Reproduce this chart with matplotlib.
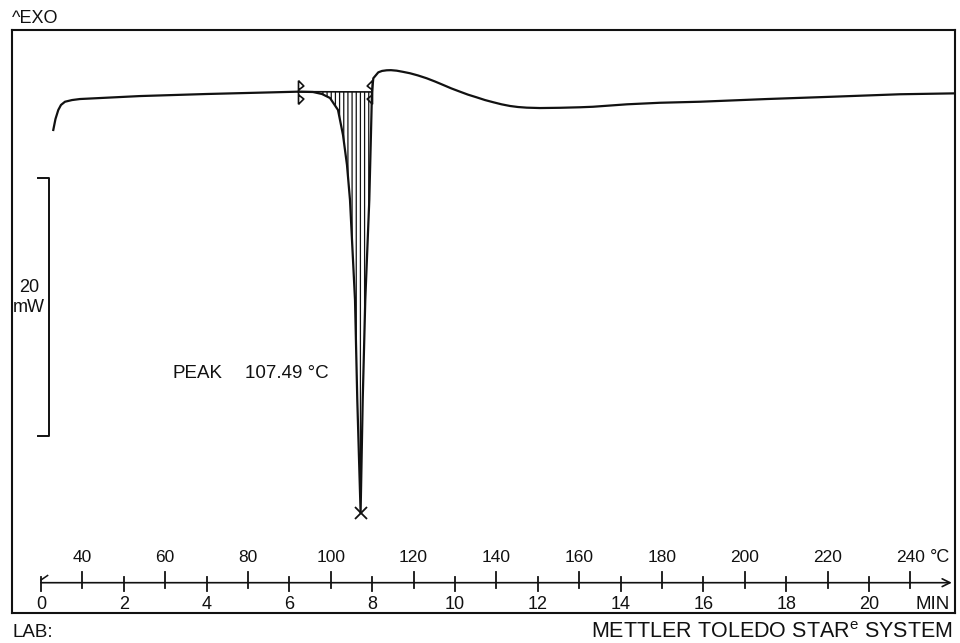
import numpy as np
import matplotlib
matplotlib.use("Agg")
import matplotlib.pyplot as plt
from matplotlib.path import Path

# ---------------- data ----------------
temperature_c = [32.97, 33.50, 34.18, 34.83, 35.80, 37.49, 39.42, 53.91, 70.02, 86.04,
                 92.08, 95.70, 97.87, 99.81, 101.74, 102.95, 103.91, 104.64, 105.85, 106.40,
                 107.20, 107.71, 108.33, 109.30, 109.71, 109.95, 110.27, 110.92, 111.47, 112.37,
                 113.50, 114.54, 115.92, 117.44, 119.13, 121.06, 123.16, 125.17, 127.17, 129.15,
                 131.21, 133.14, 135.24, 137.25, 139.25, 141.23, 143.29, 145.22, 147.32, 150.53,
                 155.36, 160.19, 163.33, 171.55, 179.52, 189.18, 205.36, 221.30, 237.49, 250.77]
heat_flow_mw = [-2.79, -1.94, -1.24, -0.85, -0.60, -0.47, -0.39, -0.16, 0.00, 0.13,
                0.18, 0.155, 0.00, -0.31, -1.24, -3.18, -5.51, -8.23, -15.99, -23.75,
                -32.50, -23.75, -15.99, -8.23, -3.03, 0.16, 1.22, 1.47, 1.68, 1.79,
                1.84, 1.85, 1.81, 1.72, 1.61, 1.44, 1.22, 0.97, 0.70, 0.43,
                0.18, -0.05, -0.26, -0.47, -0.64, -0.80, -0.93, -1.01, -1.06, -1.09,
                -1.07, -1.03, -0.99, -0.80, -0.68, -0.60, -0.39, -0.21, -0.02, 0.05]
peak_temperature_c = 107.49
integration_limits_c = [92.08, 109.95]
temp_ticks_c = [40, 60, 80, 100, 120, 140, 160, 180, 200, 220, 240]
time_ticks_min = [0, 2, 4, 6, 8, 10, 12, 14, 16, 18, 20]
start_temp_c = 30
heating_rate_k_per_min = 10
scale_bar_mw = 20

# ---------------- style ----------------
FONT = ["Liberation Sans", "DejaVu Sans"]
plt.rcParams["font.family"] = FONT
plt.rcParams["mathtext.fontset"] = "custom"
plt.rcParams["mathtext.rm"] = "Liberation Sans"
plt.rcParams["hatch.linewidth"] = 0.9
INK = "#111111"

W, H = 960, 643
fig = plt.figure(figsize=(W / 100, H / 100), dpi=100)
fig.patch.set_facecolor("white")

ax_left, ax_right, ax_top, ax_bottom = 12, 955, 30, 612.5
ax = fig.add_axes([ax_left / W, 1 - ax_bottom / H,
                   (ax_right - ax_left) / W, (ax_bottom - ax_top) / H])
ax.set_xlim(23.0, 250.77)
ax.set_ylim(-40.24, 4.967)
ax.set_xticks([])
ax.set_yticks([])
for sp in ax.spines.values():
    sp.set_linewidth(1.5)
    sp.set_color(INK)


def fy(py):
    return 1 - py / H


def ay(py):
    return (ax_bottom - py) / (ax_bottom - ax_top)


xt = ax.get_xaxis_transform()

T = np.array(temperature_c)
Q = np.array(heat_flow_mw)

# ---- DSC curve ----
ax.plot(T, Q, color=INK, lw=1.6, solid_joinstyle="round")

# ---- integration baseline + hatch ----
lo, hi = integration_limits_c
b_lo = np.interp(lo, T, Q)
b_hi = np.interp(hi, T, Q)
ax.plot([lo, hi], [b_lo, b_hi], color=INK, lw=1.2)
base = np.interp(T, [lo, hi], [b_lo, b_hi])
mask = (T >= lo) & (T <= hi)
ax.fill_between(T, Q, base, where=mask, interpolate=True, facecolor="none",
                edgecolor=INK, linewidth=0, hatch="||||")

# limit markers
left_mark = Path([(0, -1), (0, 1), (0, 1), (0.45, 0.55), (0, 0.2),
                  (0, -0.2), (0.45, -0.55), (0, -1)],
                 [Path.MOVETO, Path.LINETO, Path.MOVETO, Path.LINETO, Path.LINETO,
                  Path.MOVETO, Path.LINETO, Path.LINETO])
right_mark = Path([(-x, y) for x, y in left_mark.vertices], left_mark.codes)
ax.plot([lo], [b_lo], marker=left_mark, ms=17, mfc="none", mec=INK, mew=1.2, ls="none")
ax.plot([hi], [b_hi], marker=right_mark, ms=17, mfc="none", mec=INK, mew=1.2, ls="none")

# peak cross
peak_idx = int(np.argmin(Q))
ax.plot([T[peak_idx]], [Q[peak_idx]], marker="x", ms=8, mew=1.3, color=INK, ls="none")

# ---- scale bar ----
bar_top = -6.54
bx, bx0 = 32.0, 29.28
ax.plot([bx0, bx, bx, bx0], [bar_top, bar_top, bar_top - scale_bar_mw, bar_top - scale_bar_mw],
        color=INK, lw=1.4)
fig.text(29 / W, fy(292), f"{scale_bar_mw}", ha="center", va="baseline", fontsize=13, color=INK)
fig.text(29 / W, fy(311.5), "mW", ha="center", va="baseline", fontsize=13, color=INK)

# ---- peak annotation ----
fig.text(172 / W, fy(378), "PEAK", ha="left", va="baseline", fontsize=13.5, color=INK)
fig.text(245 / W, fy(378), f"{peak_temperature_c:.2f} °C", ha="left", va="baseline",
         fontsize=13.5, color=INK)

# ---- bottom ruler (temperature / time) ----
time_T = [start_temp_c + heating_rate_k_per_min * m for m in time_ticks_min]
y_line = ay(582.7)
ax.annotate("", xy=(250.0, y_line), xytext=(time_T[0], y_line), xycoords=xt, textcoords=xt,
            arrowprops=dict(arrowstyle="->", lw=1.2, color=INK, mutation_scale=14,
                            shrinkA=0, shrinkB=0))
for t in temp_ticks_c:
    ax.plot([t, t], [ay(571.7), ay(588.3)], transform=xt, color=INK, lw=1.3)
    ax.text(t, ay(561.7), f"{t}", transform=xt, ha="center", va="baseline",
            fontsize=12.5, color=INK)
for m, t in zip(time_ticks_min, time_T):
    ax.plot([t, t], [ay(576.7), ay(591.3)], transform=xt, color=INK, lw=1.3)
    ax.text(t, ay(609.3), f"{m}", transform=xt, ha="center", va="baseline",
            fontsize=13, color=INK)
ax.plot([time_T[0], time_T[0] + 1.6], [ay(580), ay(575.5)], transform=xt, color=INK, lw=1.1)
fig.text(950 / W, fy(561.7), "°C", ha="right", va="baseline", fontsize=13, color=INK)
fig.text(950 / W, fy(609.3), "MIN", ha="right", va="baseline", fontsize=13.5, color=INK)

# ---- outer labels ----
fig.text(12 / W, fy(23), "^EXO", ha="left", va="baseline", fontsize=13, color=INK)
fig.text(13 / W, fy(637), "LAB:", ha="left", va="baseline", fontsize=13.5, color=INK)
fig.text(953 / W, fy(638.5), r"METTLER TOLEDO STAR$^{\mathrm{e}}$ SYSTEM", ha="right",
         va="baseline", fontsize=15.5, color=INK)

fig.savefig("out.png", dpi=100, facecolor="white")
